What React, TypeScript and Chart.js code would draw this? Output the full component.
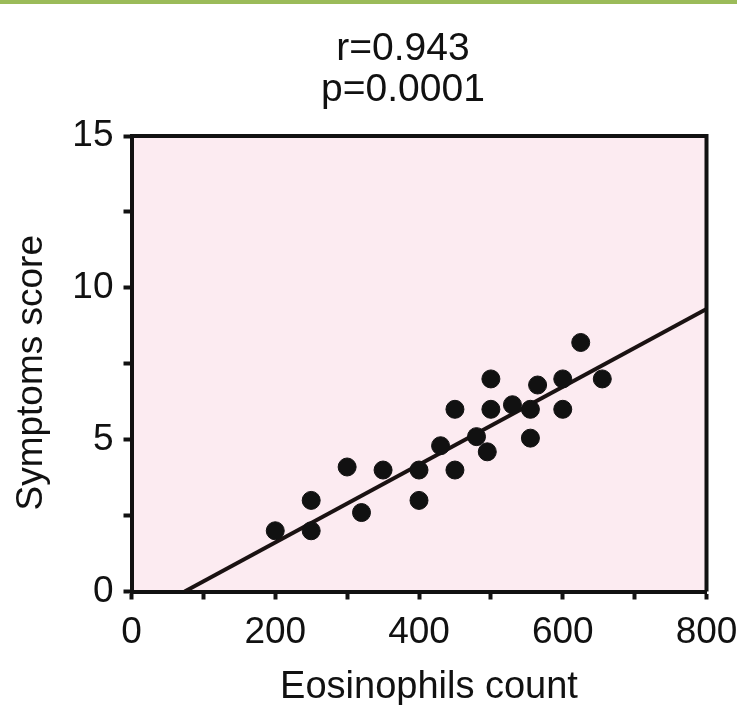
import React, { useEffect, useRef } from "react";
import { Chart, registerables } from "chart.js";

Chart.register(...registerables);

const titleLines = ["r=0.943", "p=0.0001"];
const xAxisTitle = "Eosinophils count";
const yAxisTitle = "Symptoms score";

const eosinophils = [200, 250, 250, 300, 320, 350, 400, 400, 430, 450, 450, 480, 495, 500, 500, 530, 555, 555, 565, 600, 600, 625, 655];
const symptoms = [2.0, 3.0, 2.0, 4.1, 2.6, 4.0, 4.0, 3.0, 4.8, 6.0, 4.0, 5.1, 4.6, 7.0, 6.0, 6.15, 5.05, 6.0, 6.8, 6.0, 7.0, 8.2, 7.0];

const fitX = [74, 800];
const fitY = [0, 9.3];

const xMin = 0, xMax = 800, xStep = 100, xLabelEvery = 200;
const yMin = 0, yMax = 15, yStep = 2.5, yLabelEvery = 5;

const FONT = "'Liberation Sans', Arial, sans-serif";
const INK = "#111111";

export default function App() {
  const ref = useRef<HTMLCanvasElement | null>(null);

  useEffect(() => {
    if (!ref.current) return;
    const decor = {
      id: "decor",
      beforeDraw(chart: any) {
        const { ctx, chartArea: a, width } = chart;
        ctx.save();
        ctx.fillStyle = "#ffffff";
        ctx.fillRect(0, 0, chart.width, chart.height);
        ctx.fillStyle = "#9bbb59";
        ctx.fillRect(0, 0, width, 4);
        ctx.fillStyle = "#fcebf1";
        ctx.fillRect(a.left, a.top, a.right - a.left, a.bottom - a.top);
        ctx.fillStyle = INK;
        ctx.textAlign = "center";
        ctx.textBaseline = "alphabetic";
        const cx = (a.left + a.right) / 2 - 16;
        ctx.font = `39px ${FONT}`;
        titleLines.forEach((t, i) => ctx.fillText(t, cx, 60 + i * 41));
        // x axis title
        ctx.font = `38px ${FONT}`;
        ctx.fillText(xAxisTitle, (a.left + a.right) / 2 + 10, 698);
        // y axis title
        ctx.save();
        ctx.translate(42, (a.top + a.bottom) / 2 + 9);
        ctx.rotate(-Math.PI / 2);
        ctx.font = `37px ${FONT}`;
        ctx.fillText(yAxisTitle, 0, 0);
        ctx.restore();
        ctx.restore();
      },
      afterDatasetsDraw(chart: any) {
        const { ctx, chartArea: a } = chart;
        ctx.save();
        ctx.strokeStyle = INK;
        ctx.lineWidth = 4;
        ctx.beginPath();
        ctx.moveTo(a.left, a.top);
        ctx.lineTo(a.right, a.top);
        ctx.lineTo(a.right, a.bottom);
        ctx.stroke();
        ctx.restore();
      },
    };

    const chart = new Chart(ref.current, {
      type: "scatter",
      data: {
        datasets: [
          {
            type: "scatter",
            data: eosinophils.map((x, i) => ({ x, y: symptoms[i] })),
            backgroundColor: INK,
            borderColor: INK,
            pointRadius: 9,
            pointHoverRadius: 9,
            order: 1,
          },
          {
            type: "line",
            data: fitX.map((x, i) => ({ x, y: fitY[i] })),
            borderColor: "#1a1212",
            borderWidth: 4,
            pointRadius: 0,
            showLine: true,
            fill: false,
            order: 2,
          } as any,
        ],
      },
      plugins: [decor],
      options: {
        responsive: false,
        animation: false,
        events: [],
        layout: { padding: { top: 136, right: 30.5, left: 0, bottom: 0 } },
        plugins: { legend: { display: false }, tooltip: { enabled: false }, title: { display: false } },
        scales: {
          x: {
            type: "linear",
            min: xMin,
            max: xMax,
            afterBuildTicks: (s: any) => {
              const t = [];
              for (let v = xMin; v <= xMax; v += xStep) t.push({ value: v });
              s.ticks = t;
            },
            afterFit: (s: any) => {
              s.height = 113.5;
              s.paddingLeft = 0;
              s.paddingRight = 0;
            },
            ticks: {
              callback: (v: any) => (Number(v) % xLabelEvery === 0 ? String(v) : ""),
              color: INK,
              font: { family: FONT, size: 37 },
              padding: 11,
              maxRotation: 0,
              autoSkip: false,
            },
            grid: { display: true, drawOnChartArea: false, drawTicks: true, tickLength: 8, tickWidth: 4, tickColor: INK },
            border: { display: true, color: INK, width: 4 },
            title: { display: false },
          },
          y: {
            type: "linear",
            min: yMin,
            max: yMax,
            afterBuildTicks: (s: any) => {
              const t = [];
              for (let v = yMin; v <= yMax; v += yStep) t.push({ value: v });
              s.ticks = t;
            },
            afterFit: (s: any) => {
              s.width = 131.5;
              s.paddingTop = 0;
              s.paddingBottom = 0;
            },
            ticks: {
              callback: (v: any) => (Number(v) % yLabelEvery === 0 ? String(v) : ""),
              color: INK,
              font: { family: FONT, size: 37 },
              padding: 10,
              autoSkip: false,
            },
            grid: { display: true, drawOnChartArea: false, drawTicks: true, tickLength: 8, tickWidth: 4, tickColor: INK },
            border: { display: true, color: INK, width: 4 },
            title: { display: false },
          },
        },
      },
    });
    return () => chart.destroy();
  }, []);

  return (
    <div style={{ position: "fixed", left: 0, top: 0, width: 737, height: 705 }}>
      <canvas ref={ref} width={737} height={705} style={{ display: "block", width: 737, height: 705 }} />
    </div>
  );
}
